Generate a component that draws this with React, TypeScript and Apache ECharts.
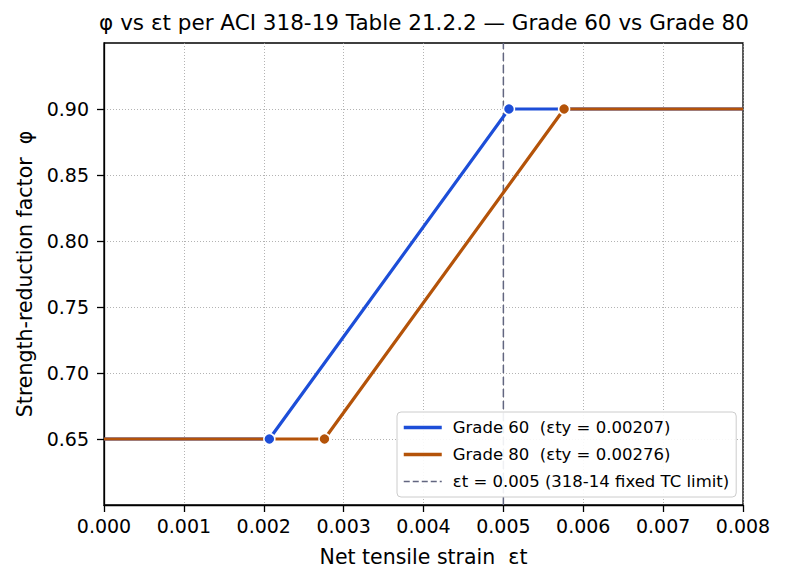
import React, { useEffect, useRef } from 'react';
import * as echarts from 'echarts';

const xTicks = [0, 0.001, 0.002, 0.003, 0.004, 0.005, 0.006, 0.007, 0.008];
const yTicks = [0.65, 0.7, 0.75, 0.8, 0.85, 0.9];

const grade60Name = 'Grade 60  (εty = 0.00207)';
const grade80Name = 'Grade 80  (εty = 0.00276)';
const limitName = 'εt = 0.005 (318-14 fixed TC limit)';

// [strain, phi]
const grade60Line = [[0, 0.65], [0.00207, 0.65], [0.00507, 0.9], [0.008, 0.9]];
const grade80Line = [[0, 0.65], [0.00276, 0.65], [0.00576, 0.9], [0.008, 0.9]];
const grade60Marks = [[0.00207, 0.65], [0.00507, 0.9]];
const grade80Marks = [[0.00276, 0.65], [0.00576, 0.9]];
const limitLine = [[0.005, 0.6], [0.005, 0.95]];

const BLUE = '#1d4ed8';
const ORANGE = '#b45309';
const DASH = '#626680';
const FONT = 'DejaVu Sans';

const App: React.FC = () => {
  const chartRef = useRef<HTMLDivElement>(null);

  useEffect(() => {
    if (!chartRef.current) return;
    const chart = echarts.init(chartRef.current, undefined, { renderer: 'svg' });
    const option = {
      animation: false,
      textStyle: { fontFamily: FONT },
      title: {
        text: 'φ vs εt per ACI 318-19 Table 21.2.2 — Grade 60 vs Grade 80',
        left: 424,
        textAlign: 'center',
        top: 11,
        padding: 0,
        textStyle: { fontFamily: FONT, fontSize: 21.5, fontWeight: 'normal', color: '#000' },
      },
      grid: {
        left: 104, right: 45, top: 43, bottom: 78,
        show: true, borderColor: '#000', borderWidth: 1.3, backgroundColor: 'transparent',
      },
      legend: {
        orient: 'vertical',
        left: 397,
        top: 412,
        data: [
          { name: grade60Name, lineStyle: { width: 3.5, color: BLUE } },
          { name: grade80Name, lineStyle: { width: 3.5, color: ORANGE } },
          { name: limitName, lineStyle: { width: 1.5, color: DASH, type: [6, 3] } },
        ],
        backgroundColor: 'rgba(255,255,255,0.9)',
        borderColor: '#cccccc',
        borderWidth: 1,
        borderRadius: 4,
        padding: [7, 7, 7, 5],
        itemGap: 10,
        itemWidth: 38,
        itemHeight: 14,
        itemStyle: { opacity: 0 },
        textStyle: { fontFamily: FONT, fontSize: 16.5, color: '#000', padding: [0, 0, 0, 6] },
      },
      xAxis: {
        type: 'value',
        min: 0,
        max: 0.008,
        interval: 0.001,
        name: 'Net tensile strain  εt',
        nameLocation: 'middle',
        nameGap: 41,
        nameTextStyle: { fontFamily: FONT, fontSize: 20.5, color: '#000' },
        axisLine: { show: true, lineStyle: { color: '#000', width: 1.3 } },
        axisTick: { show: true, length: 7, lineStyle: { color: '#000', width: 1.3 } },
        axisLabel: {
          color: '#000', fontSize: 19, fontFamily: FONT, margin: 11,
          formatter: (v: number) => v.toFixed(3),
          customValues: xTicks,
        },
        splitLine: { show: true, lineStyle: { color: '#a0a0a0', type: [1, 2], width: 0.8 } },
      },
      yAxis: {
        type: 'value',
        min: 0.6,
        max: 0.95,
        interval: 0.05,
        name: 'Strength-reduction factor  φ',
        nameLocation: 'middle',
        nameGap: 69,
        nameTextStyle: { fontFamily: FONT, fontSize: 20.5, color: '#000' },
        axisLine: { show: true, lineStyle: { color: '#000', width: 1.3 } },
        axisTick: { show: true, length: 7, lineStyle: { color: '#000', width: 1.3 }, customValues: yTicks },
        axisLabel: {
          color: '#000', fontSize: 19, fontFamily: FONT, margin: 15,
          formatter: (v: number) => v.toFixed(2),
          customValues: yTicks,
        },
        splitLine: { show: true, lineStyle: { color: '#a0a0a0', type: [1, 2], width: 0.8 } },
      },
      series: [
        {
          name: limitName,
          type: 'line',
          data: limitLine,
          symbol: 'none',
          z: 1,
          itemStyle: { color: DASH },
          lineStyle: { color: DASH, width: 1.5, type: [8, 4] },
        },
        {
          name: grade60Name,
          type: 'line',
          data: grade60Line,
          symbol: 'none',
          z: 2,
          itemStyle: { color: BLUE },
          lineStyle: { color: BLUE, width: 3.2 },
        },
        {
          name: grade80Name,
          type: 'line',
          data: grade80Line,
          symbol: 'none',
          z: 3,
          itemStyle: { color: ORANGE },
          lineStyle: { color: ORANGE, width: 3.2 },
        },
        {
          name: 'g60marks',
          type: 'scatter',
          data: grade60Marks,
          symbolSize: 11,
          z: 4,
          itemStyle: { color: BLUE, borderColor: '#fff', borderWidth: 1.5, opacity: 1 },
        },
        {
          name: 'g80marks',
          type: 'scatter',
          data: grade80Marks,
          symbolSize: 11,
          z: 4,
          itemStyle: { color: ORANGE, borderColor: '#fff', borderWidth: 1.5, opacity: 1 },
        },
      ],
    };
    chart.setOption(option as any);
    return () => {
      chart.dispose();
    };
  }, []);

  return <div ref={chartRef} style={{ width: 788, height: 583, margin: -8 }} />;
};

export default App;
